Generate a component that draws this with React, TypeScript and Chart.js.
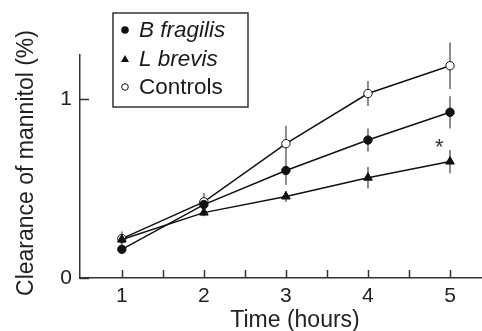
import React, { useEffect, useRef } from 'react';
import { Chart, registerables } from 'chart.js';

Chart.register(...registerables);

const hours = [1, 2, 3, 4, 5];
const bFragilis = [0.16, 0.41, 0.6, 0.77, 0.925];
const bFragilisErr = [0.02, 0.03, 0.08, 0.065, 0.09];
const lBrevis = [0.215, 0.365, 0.455, 0.56, 0.65];
const lBrevisErr = [0.02, 0.02, 0.03, 0.06, 0.065];
const controls = [0.22, 0.425, 0.75, 1.03, 1.185];
const controlsErr = [0.04, 0.05, 0.1, 0.07, 0.13];
const xTickLabels = [1, 2, 3, 4, 5];
const xMinorTicks = [1, 1.5, 2, 2.5, 3, 3.5, 4, 4.5, 5];
const yTickLabels = [0, 1];
const seriesLabels = ['B fragilis', 'L brevis', 'Controls'];
const xTitle = 'Time (hours)';
const yTitle = 'Clearance of mannitol (%)';
const asterisk = { x: 4.87, y: 0.75, text: '*' };

const FONT = '"Liberation Sans", Arial, Helvetica, sans-serif';
const AXIS = '#333333';
const ERR = '#8c8c8c';
const TEXT = '#222222';

const errorBars = [bFragilisErr, lBrevisErr, controlsErr];

const errorBarPlugin = {
  id: 'errorBars',
  beforeDatasetsDraw(chart: any) {
    const ctx = chart.ctx;
    const xs = chart.scales.x;
    const ys = chart.scales.y;
    ctx.save();
    ctx.strokeStyle = ERR;
    ctx.lineWidth = 2;
    chart.data.datasets.forEach((ds: any, i: number) => {
      const errs = errorBars[i];
      ds.data.forEach((p: any, j: number) => {
        const px = xs.getPixelForValue(p.x);
        ctx.beginPath();
        ctx.moveTo(px, ys.getPixelForValue(p.y + errs[j]));
        ctx.lineTo(px, ys.getPixelForValue(p.y - errs[j]));
        ctx.stroke();
      });
    });
    ctx.restore();
  },
};

const axisDecorPlugin = {
  id: 'axisDecor',
  afterDraw(chart: any) {
    const ctx = chart.ctx;
    const xs = chart.scales.x;
    const ys = chart.scales.y;
    const area = chart.chartArea;
    ctx.save();
    ctx.strokeStyle = AXIS;
    ctx.lineWidth = 1.5;
    xMinorTicks.forEach((v) => {
      const px = Math.round(xs.getPixelForValue(v)) + 0.5;
      ctx.beginPath();
      ctx.moveTo(px, area.bottom);
      ctx.lineTo(px, area.bottom - 8);
      ctx.stroke();
    });
    yTickLabels.forEach((v) => {
      const py = Math.round(ys.getPixelForValue(v)) + 0.5;
      ctx.beginPath();
      ctx.moveTo(area.left, py);
      ctx.lineTo(area.left + 9, py);
      ctx.stroke();
    });
    // asterisk annotation
    ctx.fillStyle = '#333';
    ctx.font = `22px ${FONT}`;
    ctx.textAlign = 'center';
    ctx.textBaseline = 'middle';
    ctx.fillText(asterisk.text, xs.getPixelForValue(asterisk.x), ys.getPixelForValue(asterisk.y) + 4);
    // axis titles
    ctx.fillStyle = TEXT;
    ctx.font = `23px ${FONT}`;
    ctx.textAlign = 'center';
    ctx.textBaseline = 'alphabetic';
    ctx.fillText(xTitle, 295, 327);
    ctx.translate(33, 163);
    ctx.rotate(-Math.PI / 2);
    ctx.fillText(yTitle, 0, 0);
    ctx.restore();
  },
};

const legendPlugin = {
  id: 'boxLegend',
  afterDraw(chart: any) {
    const ctx = chart.ctx;
    const left = 113;
    const top = 13;
    const w = 135;
    const h = 94;
    ctx.save();
    ctx.fillStyle = '#ffffff';
    ctx.fillRect(left, top, w, h);
    ctx.strokeStyle = AXIS;
    ctx.lineWidth = 1.5;
    ctx.strokeRect(left, top, w, h);
    const rows = [30, 59, 87];
    chart.data.datasets.forEach((ds: any, i: number) => {
      const cy = rows[i];
      const mx = 125;
      ctx.strokeStyle = '#111';
      ctx.lineWidth = 1;
      ctx.fillStyle = '#111';
      if (i === 0) {
        ctx.beginPath();
        ctx.arc(mx, cy, 3.8, 0, Math.PI * 2);
        ctx.fill();
      } else if (i === 1) {
        ctx.beginPath();
        ctx.moveTo(mx, cy - 4);
        ctx.lineTo(mx + 4, cy + 3);
        ctx.lineTo(mx - 4, cy + 3);
        ctx.closePath();
        ctx.fill();
      } else {
        ctx.beginPath();
        ctx.arc(mx, cy, 3.3, 0, Math.PI * 2);
        ctx.fillStyle = '#fff';
        ctx.fill();
        ctx.stroke();
      }
      ctx.fillStyle = '#1a1a1a';
      ctx.font = `${i < 2 ? 'italic ' : ''}22.5px ${FONT}`;
      ctx.textAlign = 'left';
      ctx.textBaseline = 'middle';
      ctx.fillText(ds.label, 139, cy + 1);
    });
    ctx.restore();
  },
};

export default function App() {
  const ref = useRef<HTMLCanvasElement | null>(null);
  useEffect(() => {
    document.body.style.margin = '0';
    if (!ref.current) return;
    const mk = (vals: number[]) => hours.map((h, i) => ({ x: h, y: vals[i] }));
    const chart = new Chart(ref.current, {
      type: 'line',
      data: {
        datasets: [
          {
            label: seriesLabels[0],
            data: mk(bFragilis),
            borderColor: '#111',
            borderWidth: 1.5,
            pointStyle: 'circle',
            pointRadius: 4.2,
            pointBackgroundColor: '#111',
            pointBorderColor: '#111',
            pointBorderWidth: 1,
            clip: false,
          },
          {
            label: seriesLabels[1],
            data: mk(lBrevis),
            borderColor: '#111',
            borderWidth: 1.5,
            pointStyle: 'triangle',
            pointRadius: 5,
            pointBackgroundColor: '#111',
            pointBorderColor: '#111',
            pointBorderWidth: 1,
            clip: false,
          },
          {
            label: seriesLabels[2],
            data: mk(controls),
            borderColor: '#111',
            borderWidth: 1.5,
            pointStyle: 'circle',
            pointRadius: 4.2,
            pointBackgroundColor: '#fff',
            pointBorderColor: '#111',
            pointBorderWidth: 1,
            clip: false,
          },
        ],
      },
      options: {
        animation: false,
        responsive: false,
        layout: { autoPadding: false, padding: { top: 55, left: 0, right: 0, bottom: 0 } },
        plugins: { legend: { display: false }, tooltip: { enabled: false } },
        elements: { line: { tension: 0 } },
        scales: {
          x: {
            type: 'linear',
            min: 0.49,
            max: 5.39,
            afterBuildTicks: (s: any) => {
              s.ticks = xTickLabels.map((v) => ({ value: v }));
            },
            afterFit: (s: any) => {
              s.height = 53;
              s.paddingLeft = 0;
              s.paddingRight = 0;
            },
            grid: { display: false, drawTicks: false },
            border: { display: true, color: AXIS, width: 1.5 },
            ticks: {
              color: TEXT,
              font: { family: FONT, size: 21 },
              padding: 6,
              autoSkip: false,
              maxRotation: 0,
              callback: (v: any) => String(v),
            },
            title: { display: false },
          },
          y: {
            type: 'linear',
            min: 0,
            max: 1.245,
            afterBuildTicks: (s: any) => {
              s.ticks = yTickLabels.map((v) => ({ value: v }));
            },
            afterFit: (s: any) => {
              s.width = 80;
              s.paddingTop = 0;
              s.paddingBottom = 0;
            },
            grid: { display: false, drawTicks: false },
            border: { display: true, color: AXIS, width: 1.5 },
            ticks: {
              color: TEXT,
              font: { family: FONT, size: 21 },
              padding: 8,
              callback: (v: any) => String(v),
            },
            title: { display: false },
          },
        },
      },
      plugins: [errorBarPlugin, axisDecorPlugin, legendPlugin],
    });
    return () => chart.destroy();
  }, []);
  return (
    <div style={{ position: 'absolute', left: 0, top: 0, width: 482, height: 331, background: '#fff' }}>
      <canvas ref={ref} width={482} height={331} />
    </div>
  );
}
